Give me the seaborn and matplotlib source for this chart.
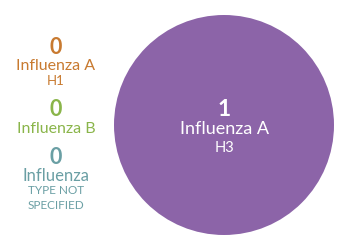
import matplotlib
matplotlib.use("Agg")
import matplotlib.pyplot as plt
import seaborn as sns
import pandas as pd
import numpy as np

# Data
categories = ["Influenza A H3", "Influenza A H1", "Influenza B", "Influenza TYPE NOT SPECIFIED"]
values = [1, 0, 0, 0]
colors = ["#8c64a8", "#c87a30", "#8ab54a", "#6a9fa4"]

sns.set_theme(style="white")
plt.rcParams['font.family'] = ['Lato', 'DejaVu Sans']

fig = plt.figure(figsize=(3.5, 2.5), dpi=100)
ax = fig.add_axes([0, 0, 1, 1])
ax.set_xlim(0, 350)
ax.set_ylim(250, 0)
ax.axis("off")

# Big bubble: area proportional to value
max_radius_px = 110
pt_per_px = 72 / 100
df = pd.DataFrame({"x": [224], "y": [125], "v": [values[0]]})
sizes = [(2 * max_radius_px * pt_per_px * np.sqrt(v / max(values))) ** 2 for v in df["v"]]
sns.scatterplot(data=df, x="x", y="y", s=sizes[0], color=colors[0], edgecolor="none",
                linewidth=0, ax=ax, legend=False)

# Labels inside bubble
ax.text(224, 109.5, str(values[0]), color="white", fontsize=16.5, fontweight="bold", ha="center", va="center")
ax.text(224, 129, "Influenza A", color="white", fontsize=13, ha="center", va="center")
ax.text(224, 148, "H3", color="white", fontsize=10.5, ha="center", va="center")

# Left-side labels
cx = 56
ax.text(cx, 47.5, str(values[1]), color=colors[1], fontsize=15.5, fontweight="bold", ha="center", va="center")
ax.text(cx, 65.5, "Influenza A", color=colors[1], fontsize=11.5, ha="center", va="center")
ax.text(cx, 81, "H1", color=colors[1], fontsize=9.5, ha="center", va="center")

ax.text(cx, 110, str(values[2]), color=colors[2], fontsize=15.5, fontweight="bold", ha="center", va="center")
ax.text(cx, 129, "Influenza B", color=colors[2], fontsize=11.5, ha="center", va="center")

ax.text(cx, 157.5, str(values[3]), color=colors[3], fontsize=15.5, fontweight="bold", ha="center", va="center")
ax.text(cx, 176, "Influenza", color=colors[3], fontsize=12, ha="center", va="center")
ax.text(cx, 190.5, "TYPE NOT", color=colors[3], fontsize=8.5, ha="center", va="center")
ax.text(cx, 205.5, "SPECIFIED", color=colors[3], fontsize=8.5, ha="center", va="center")

fig.savefig("out.png", dpi=100)
